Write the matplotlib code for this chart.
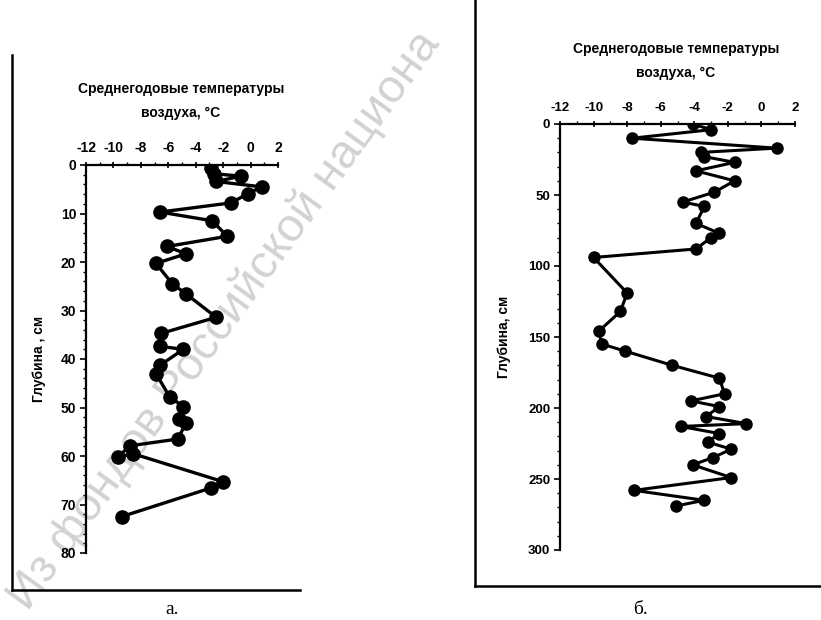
import matplotlib
matplotlib.use('Agg')
import matplotlib.pyplot as plt
from matplotlib.lines import Line2D
from matplotlib.ticker import MultipleLocator

plt.rcParams['font.family'] = ['Liberation Sans', 'DejaVu Sans']

# panel a: air temperature vs depth
temp_a = [-2.9, -2.7, -0.7, -2.5, 0.8, -0.2, -1.4, -6.6, -2.8, -1.7, -6.1, -4.7,
          -6.9, -5.7, -4.7, -2.5, -6.5, -6.6, -4.9, -6.6, -6.9, -5.9, -4.9, -5.2,
          -4.7, -5.3, -8.8, -9.7, -8.6, -2.0, -2.9, -9.4]
depth_a = [0.7, 1.8, 2.3, 3.4, 4.5, 5.9, 7.8, 9.7, 11.5, 14.7, 16.8, 18.3,
           20.3, 24.5, 26.6, 31.4, 34.7, 37.4, 38.0, 41.3, 43.0, 47.8, 49.8, 52.4,
           53.1, 56.5, 57.9, 60.3, 59.5, 65.3, 66.6, 72.5]

# panel b
temp_b = [-4.1, -3.0, -7.7, 0.9, -3.6, -3.4, -1.6, -3.9, -1.6, -2.8, -4.7, -3.4,
          -3.9, -2.5, -3.0, -3.9, -10.0, -8.0, -8.4, -9.7, -9.5, -8.1, -5.3, -2.5,
          -2.2, -4.2, -2.5, -3.3, -0.9, -4.8, -2.5, -3.2, -1.8, -2.9, -4.1, -1.8,
          -7.6, -3.4, -5.1]
depth_b = [0, 4, 10, 17, 20, 23, 27, 33, 40, 48, 55, 58,
           70, 77, 80, 88, 94, 119, 132, 146, 155, 160, 170, 179,
           190, 195, 199, 206, 211, 213, 218, 224, 229, 235, 240, 249,
           258, 265, 269]

xticks = [-12, -10, -8, -6, -4, -2, 0, 2]
yticks_a = [0, 10, 20, 30, 40, 50, 60, 70, 80]
yticks_b = [0, 50, 100, 150, 200, 250, 300]
title = 'Среднегодовые температуры'

W, H = 821, 620
fig = plt.figure(figsize=(W / 100, H / 100), dpi=100)


def px(x0, y0, x1, y1):
    return [x0 / W, 1 - y1 / H, (x1 - x0) / W, (y1 - y0) / H]


def panel(rect, temp, depth, yticks, ymax, yminor, ylabel, ms, lw, fs, lpad):
    ax = fig.add_axes(rect)
    ax.plot(temp, depth, '-o', color='black', lw=lw, ms=ms)
    ax.set_xlim(-12, 2)
    ax.set_ylim(ymax, 0)
    ax.set_xticks(xticks)
    ax.set_yticks(yticks)
    ax.xaxis.set_minor_locator(MultipleLocator(1))
    ax.yaxis.set_minor_locator(MultipleLocator(yminor))
    ax.set_xticklabels([str(t) for t in xticks], fontweight='bold', fontsize=fs)
    ax.set_yticklabels([str(t) for t in yticks], fontweight='bold', fontsize=fs)
    ax.xaxis.tick_top()
    ax.tick_params(axis='x', which='major', direction='inout', length=5, width=1.2, pad=5)
    ax.tick_params(axis='x', which='minor', direction='out', length=2, width=1)
    ax.tick_params(axis='y', which='major', direction='out', length=4, width=1.2, pad=3)
    ax.tick_params(axis='y', which='minor', direction='out', length=2, width=1)
    for s in ['right', 'bottom']:
        ax.spines[s].set_visible(False)
    for s in ['left', 'top']:
        ax.spines[s].set_linewidth(1.6)
    ax.set_ylabel(ylabel, fontsize=10, fontweight='bold', labelpad=lpad)
    return ax


panel(px(86, 165, 278, 553), temp_a, depth_a, yticks_a, 80, 2,
      'Глубина , см', 9.5, 2.4, 10, 11)
panel(px(560, 124, 795, 550), temp_b, depth_b, yticks_b, 300, 10,
      'Глубина, см', 8, 2.2, 9.5, 12)

# axis titles
fig.text(181 / W, 1 - 89 / H, title, fontsize=10, fontweight='bold', ha='center', va='center')
fig.text(181 / W, 1 - 113 / H, 'воздуха, °C', fontsize=10, fontweight='bold', ha='center', va='center')
fig.text(676 / W, 1 - 49 / H, title, fontsize=10, fontweight='bold', ha='center', va='center')
fig.text(676 / W, 1 - 73 / H, 'воздуха, °С', fontsize=10, fontweight='bold', ha='center', va='center')

# chart area frames
fig.add_artist(Line2D([12 / W, 12 / W], [1 - 55 / H, 1 - 590 / H], color='black', lw=1.8))
fig.add_artist(Line2D([12 / W, 300 / W], [1 - 590 / H, 1 - 590 / H], color='black', lw=1.8))
fig.add_artist(Line2D([475 / W, 475 / W], [1.0, 1 - 586 / H], color='black', lw=1.8))
fig.add_artist(Line2D([475 / W, 1.0], [1 - 586 / H, 1 - 586 / H], color='black', lw=1.8))

fig.text(172 / W, 1 - 610 / H, 'а.', family='Liberation Serif', fontsize=14, ha='center', va='center')
fig.text(640 / W, 1 - 610 / H, 'б.', family='Liberation Serif', fontsize=14, ha='center', va='center')

# scan watermark
fig.text(28 / W, 1 - 612 / H, 'Из фондов Российской национа', fontsize=34,
         color='black', alpha=0.18, rotation=54, rotation_mode='anchor',
         ha='left', va='baseline')

fig.savefig('out.png', dpi=100)
